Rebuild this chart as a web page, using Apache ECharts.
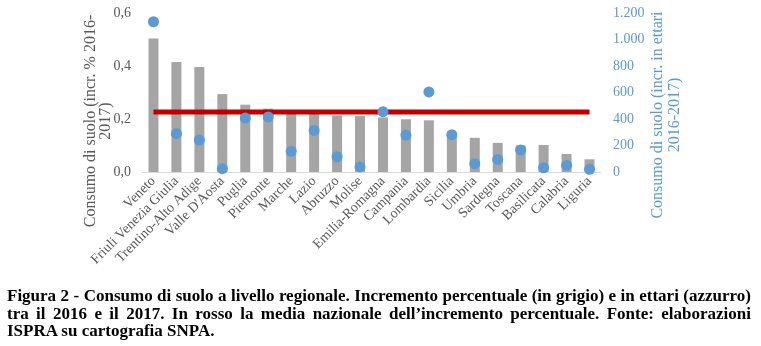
<!DOCTYPE html>
<html>
<head>
<meta charset="utf-8">
<script src="https://cdn.jsdelivr.net/npm/echarts@6/dist/echarts.min.js"></script>
<style>
  html, body { margin: 0; padding: 0; background: #fff; }
  #chart { position: absolute; left: 0; top: 0; width: 761px; height: 346px; }
  #caption { position: absolute; left: 7px; width: 744px; top: 287px;
    font-family: "Liberation Serif", "Times New Roman", serif; font-weight: bold;
    font-size: 17px; line-height: 17.5px; color: #000; }
  #caption div { text-align: justify; white-space: nowrap; }
  #caption div.j { text-align-last: justify; }
</style>
</head>
<body>
<div id="chart"></div>
<div id="caption">
  <div class="j">Figura 2 - Consumo di suolo a livello regionale. Incremento percentuale (in grigio) e in ettari (azzurro)</div>
  <div class="j">tra il 2016 e il 2017. In rosso la media nazionale dell’incremento percentuale. Fonte: elaborazioni</div>
  <div>ISPRA su cartografia SNPA.</div>
</div>
<script>
const regions = ["Veneto","Friuli Venezia Giulia","Trentino-Alto Adige","Valle D'Aosta","Puglia","Piemonte","Marche","Lazio","Abruzzo","Molise","Emilia-Romagna","Campania","Lombardia","Sicilia","Umbria","Sardegna","Toscana","Basilicata","Calabria","Liguria"];
const incrPercent = [0.504,0.415,0.396,0.294,0.254,0.239,0.224,0.222,0.214,0.211,0.206,0.199,0.195,0.14,0.129,0.11,0.10,0.102,0.068,0.048];
const incrEttari = [1134,289,241,25,407,415,156,314,115,38,455,279,604,282,63,95,166,32,50,20];
const nationalMean = 0.226;
const leftTicks = [0, 0.2, 0.4, 0.6];
const rightTicks = [0, 200, 400, 600, 800, 1000, 1200];
const leftTitle = "Consumo di suolo (incr. % 2016-\n2017)";
const rightTitle = "Consumo di suolo (incr. in ettari\n2016-2017)";

const chart = echarts.init(document.getElementById('chart'), null, {renderer: 'canvas'});
const serif = '"Liberation Serif", "Times New Roman", serif';
chart.setOption({
  animation: false,
  grid: { left: 142, right: 160, top: 13, bottom: 174 },
  xAxis: {
    type: 'category',
    data: regions,
    axisLine: { lineStyle: { color: '#d9d9d9', width: 1 } },
    axisTick: { show: false },
    axisLabel: { interval: 0, rotate: 45, margin: 7, fontFamily: serif, fontSize: 14, color: '#595959' }
  },
  yAxis: [
    { type: 'value', min: leftTicks[0], max: leftTicks[leftTicks.length-1], interval: 0.2,
      splitLine: { show: false }, axisLine: { show: false }, axisTick: { show: false },
      axisLabel: { margin: 11, fontFamily: serif, fontSize: 14, color: '#595959',
        formatter: v => v.toFixed(1).replace('.', ',') } },
    { type: 'value', min: rightTicks[0], max: rightTicks[rightTicks.length-1], interval: 200,
      position: 'right',
      splitLine: { show: false }, axisLine: { show: false }, axisTick: { show: false },
      axisLabel: { margin: 12, fontFamily: serif, fontSize: 14, color: '#5b9bd5',
        formatter: v => v >= 1000 ? Math.floor(v/1000) + '.' + String(v%1000).padStart(3,'0') : String(v) } }
  ],
  graphic: [
    { type: 'text', x: 98, y: 121, rotation: Math.PI/2,
      style: { text: leftTitle, textAlign: 'center', textVerticalAlign: 'middle',
        font: '16px "Liberation Serif"', fill: '#595959', lineHeight: 15 } },
    { type: 'text', x: 666, y: 115, rotation: Math.PI/2,
      style: { text: rightTitle, textAlign: 'center', textVerticalAlign: 'middle',
        font: '16px "Liberation Serif"', fill: '#5b9bd5', lineHeight: 17 } }
  ],
  series: [
    { type: 'bar', data: incrPercent, yAxisIndex: 0, barWidth: 10,
      itemStyle: { color: '#a5a5a5' }, z: 1 },
    { type: 'line', data: regions.map(() => nationalMean), yAxisIndex: 0, symbol: 'none',
      lineStyle: { color: '#c00000', width: 5 }, z: 2 },
    { type: 'scatter', data: incrEttari, yAxisIndex: 1, symbolSize: 11,
      itemStyle: { color: '#5b9bd5', opacity: 1 }, z: 3 }
  ]
});
</script>
</body>
</html>
